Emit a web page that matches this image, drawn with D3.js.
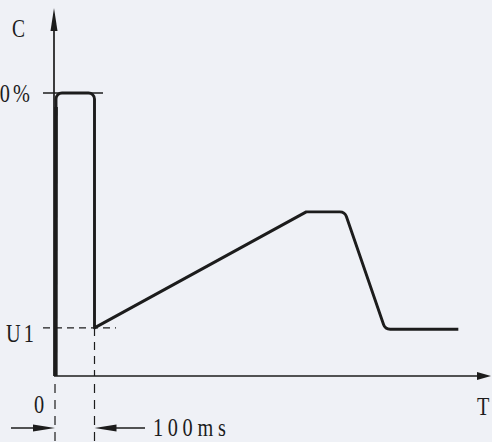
<!DOCTYPE html>
<html>
<head>
<meta charset="utf-8">
<script src="https://cdn.jsdelivr.net/npm/d3@7"></script>
<style>
  html, body { margin: 0; padding: 0; background: #eff1f6; }
  svg { display: block; }
  text { font-family: "Liberation Serif", "DejaVu Serif", serif; fill: #1c1c1c; }
</style>
</head>
<body>
<svg id="chart" width="492" height="442"></svg>
<script>
// ---- data ----
const times  = [0, 0, 100, 100, 650, 750, 855, 1045];      // ms
const values = [0, 100, 100, 17, 58, 58, 16.5, 16.5];     // % of C
const levelLabels = ["100%", "U1"];
const levelValues = [100, 17];
const timeLabels = ["0", "100ms"];
const timeMarks = [0, 100];
const axisLabels = ["C", "T"];

// ---- layout ----
const W = 492, H = 442;
const svg = d3.select("#chart");
const ink = "#1c1c1c";

const x = d3.scaleLinear().domain([0, 100]).range([56, 94.5]);
const y = d3.scaleLinear().domain([0, 100]).range([376, 93]);
const x0 = 54;            // y axis position
const yAxisTop = 8;
const xAxisEnd = 491;

// axes
svg.append("line").attr("x1", x0).attr("y1", y(0)).attr("x2", x0).attr("y2", yAxisTop + 10)
  .attr("stroke", ink).attr("stroke-width", 1.7);
svg.append("path")
  .attr("d", `M${x0},${yAxisTop} L${x0 - 3.5},${yAxisTop + 23} L${x0 + 3.5},${yAxisTop + 23} Z`)
  .attr("fill", ink);
svg.append("line").attr("x1", x0).attr("y1", y(0)).attr("x2", xAxisEnd - 10).attr("y2", y(0))
  .attr("stroke", ink).attr("stroke-width", 1.7);
svg.append("path")
  .attr("d", `M${xAxisEnd},${y(0)} L${xAxisEnd - 14},${y(0) - 4} L${xAxisEnd - 14},${y(0) + 4} Z`)
  .attr("fill", ink);

// 100% guide (solid) and U1 guide (dashed)
svg.append("line").attr("x1", 43).attr("x2", 103)
  .attr("y1", y(levelValues[0])).attr("y2", y(levelValues[0]))
  .attr("stroke", ink).attr("stroke-width", 1.3);
svg.append("line").attr("x1", 43).attr("x2", 116)
  .attr("y1", y(levelValues[1])).attr("y2", y(levelValues[1]))
  .attr("stroke", ink).attr("stroke-width", 1.2).attr("stroke-dasharray", "7,5");

// vertical dashed lines
svg.append("line").attr("x1", x(timeMarks[1])).attr("x2", x(timeMarks[1]))
  .attr("y1", y(levelValues[1])).attr("y2", y(0))
  .attr("stroke", ink).attr("stroke-width", 1.2).attr("stroke-dasharray", "8,6");
timeMarks.forEach(t => {
  const xx = x(t) - (t === 0 ? 1 : 0);
  svg.append("line").attr("x1", xx).attr("x2", xx)
    .attr("y1", 384).attr("y2", H)
    .attr("stroke", ink).attr("stroke-width", 1.2).attr("stroke-dasharray", "9,7");
});

// dimension arrows
const ay = 428;
const xa = x(timeMarks[0]) - 1, xb = x(timeMarks[1]);
svg.append("line").attr("x1", 11).attr("x2", xa - 10).attr("y1", ay).attr("y2", ay)
  .attr("stroke", ink).attr("stroke-width", 1.4);
svg.append("path").attr("d", `M${xa},${ay} L${xa - 22},${ay - 3.5} L${xa - 22},${ay + 3.5} Z`).attr("fill", ink);
svg.append("line").attr("x1", xb + 10).attr("x2", 145).attr("y1", ay).attr("y2", ay)
  .attr("stroke", ink).attr("stroke-width", 1.4);
svg.append("path").attr("d", `M${xb},${ay} L${xb + 22},${ay - 3.5} L${xb + 22},${ay + 3.5} Z`).attr("fill", ink);

// ---- curve with rounded corners ----
const pts = times.map((t, i) => [x(t), y(values[i])]);
const radius = [0, 6, 6, 0, 0, 7, 7, 0];
const p = d3.path();
p.moveTo(pts[0][0], pts[0][1]);
for (let i = 1; i < pts.length - 1; i++) {
  if (radius[i] > 0) p.arcTo(pts[i][0], pts[i][1], pts[i + 1][0], pts[i + 1][1], radius[i]);
  else p.lineTo(pts[i][0], pts[i][1]);
}
p.lineTo(pts[pts.length - 1][0], pts[pts.length - 1][1]);
svg.append("path").attr("d", p.toString()).attr("fill", "none")
  .attr("stroke", ink).attr("stroke-width", 2.9).attr("stroke-linejoin", "round");
// thick rising edge
svg.append("line").attr("x1", pts[0][0] - 0.5).attr("y1", pts[0][1])
  .attr("x2", pts[1][0]).attr("y2", pts[1][1] + 14)
  .attr("stroke", ink).attr("stroke-width", 3.6);

// ---- texts ----
function label(str, tx, ty, anchor, spacing, size) {
  const g = svg.append("g").attr("transform", `translate(${tx},${ty}) scale(0.78,1)`);
  g.append("text").attr("text-anchor", anchor).attr("font-size", size || 25)
    .attr("letter-spacing", spacing || 0).text(str);
}
label(axisLabels[0], 12, 37, "start", 0);
label(axisLabels[1], 477, 415, "start", 0, 26);
label(levelLabels[0], 33, 102, "end", 4, 26);
label(levelLabels[1], 37, 342, "end", 4, 26);
label(timeLabels[0], 34, 413, "start", 0, 26);
label(timeLabels[1], 153, 436, "start", 6, 26);
</script>
</body>
</html>
